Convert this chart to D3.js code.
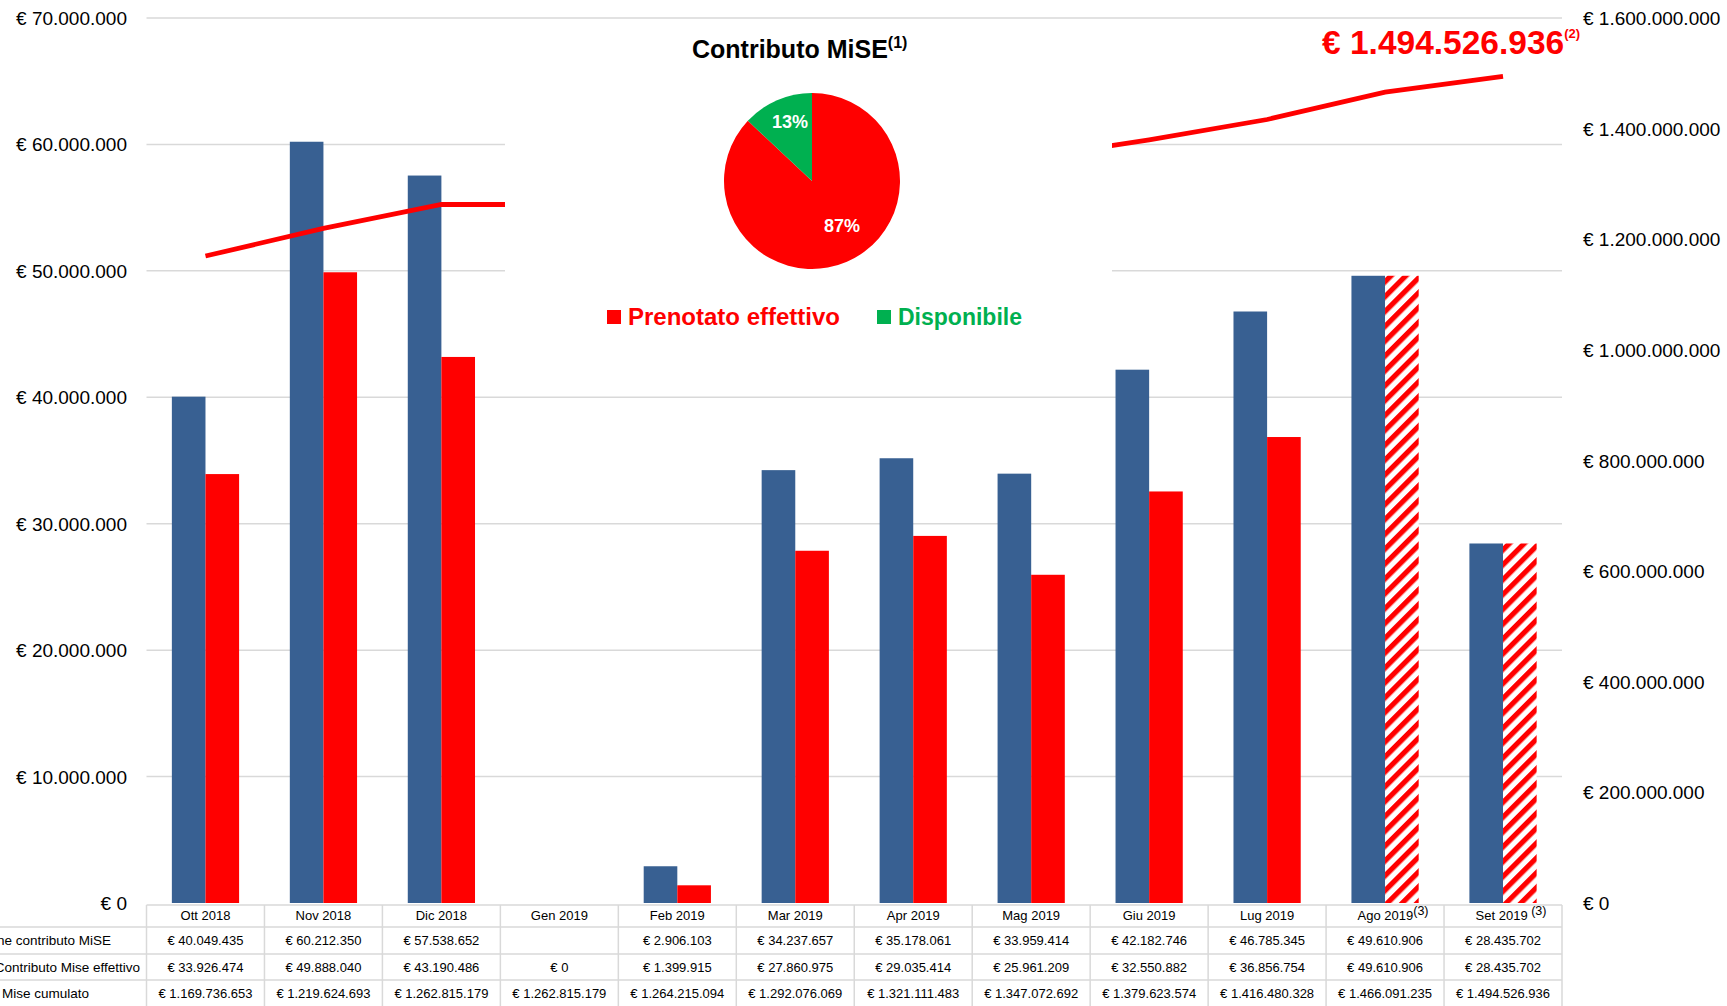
<!DOCTYPE html>
<html>
<head>
<meta charset="utf-8">
<script src="https://cdn.jsdelivr.net/npm/d3@7"></script>
<style>
body{margin:0;background:#fff}
svg{display:block;font-family:"Liberation Sans",Arial,sans-serif}
</style>
</head>
<body>
<svg id="chart" width="1727" height="1006"></svg>
<script>
// months shown on the x axis / table header
var categories = ["Ott 2018","Nov 2018","Dic 2018","Gen 2019","Feb 2019","Mar 2019","Apr 2019","Mag 2019","Giu 2019","Lug 2019","Ago 2019","Set 2019"];
var headerNotes = ["","","","","","","","","","","(3)"," (3)"];
var prenotazione = [40049435,60212350,57538652,null,2906103,34237657,35178061,33959414,42182746,46785345,49610906,28435702];
var effettivo = [33926474,49888040,43190486,0,1399915,27860975,29035414,25961209,32550882,36856754,49610906,28435702];
var cumulato = [1169736653,1219624693,1262815179,1262815179,1264215094,1292076069,1321111483,1347072692,1379623574,1416480328,1466091235,1494526936];
var hatched = [false,false,false,false,false,false,false,false,false,false,true,true];
var leftTicks = [0,10000000,20000000,30000000,40000000,50000000,60000000,70000000];
var rightTicks = [0,200000000,400000000,600000000,800000000,1000000000,1200000000,1400000000,1600000000];
var rowLabels = ["Prenotazione contributo MiSE","Contributo Mise effettivo","Contributo Mise cumulato"];
var pieNames = ["Prenotato effettivo","Disponibile"];
var pieValues = [87,13];
var totalText = "€ 1.494.526.936";

var BLUE = "#386092", RED = "#ff0000", GREEN = "#00b050", GRID = "#d9d9d9";

var it = d3.formatLocale({decimal:",", thousands:".", grouping:[3], currency:["€ ",""]});
var fmt = it.format("$,.0f");

var svg = d3.select("#chart");

// hatch for the estimated months
var defs = svg.append("defs");
var pat = defs.append("pattern").attr("id","hatch").attr("patternUnits","userSpaceOnUse")
  .attr("width",10.5).attr("height",10.5).attr("patternTransform","rotate(45)");
pat.append("rect").attr("width",10.5).attr("height",10.5).attr("fill","#fff");
pat.append("rect").attr("width",5.2).attr("height",10.5).attr("fill",RED);

var plotL = 146.5, plotR = 1562, plotT = 18, plotB = 903;

var col = d3.scaleBand().domain(categories).range([plotL,plotR]);
var xb = d3.scaleBand().domain(categories).range([plotL,plotR]).paddingInner(0.43).paddingOuter(0.215);
var xs = d3.scaleBand().domain([0,1]).range([0,xb.bandwidth()]);
var yL = d3.scaleLinear().domain([0,70000000]).range([plotB,plotT]);
var yR = d3.scaleLinear().domain([0,1600000000]).range([plotB,plotT]);

// gridlines
svg.append("g").selectAll("line").data(leftTicks.slice(1)).join("line")
  .attr("x1",plotL).attr("x2",plotR)
  .attr("y1",d=>yL(d)).attr("y2",d=>yL(d))
  .attr("stroke",GRID).attr("stroke-width",1.5);

// bars
var bars = svg.append("g");
bars.selectAll(".pb").data(categories.filter((c,i)=>prenotazione[i]!=null)).join("rect")
  .attr("x",c=>xb(c)+xs(0))
  .attr("y",c=>yL(prenotazione[categories.indexOf(c)])).attr("width",xs.bandwidth())
  .attr("height",c=>yL(0)-yL(prenotazione[categories.indexOf(c)])).attr("fill",BLUE);
bars.selectAll(".eb").data(effettivo).join("rect")
  .attr("x",(d,i)=>xb(categories[i])+xs(1))
  .attr("y",d=>yL(d)).attr("width",xs.bandwidth())
  .attr("height",d=>yL(0)-yL(d))
  .attr("fill",(d,i)=>hatched[i]?"url(#hatch)":RED);

// cumulative line on right axis
var line = d3.line().x((d,i)=>col(categories[i])+col.bandwidth()/2).y(d=>yR(d));
svg.append("path").datum(cumulato).attr("d",line)
  .attr("fill","none").attr("stroke",RED).attr("stroke-width",4.8);

// white panel holding the pie
svg.append("rect").attr("x",505).attr("y",22).attr("width",607).attr("height",320).attr("fill","#fff");

// title
var title = svg.append("text").attr("x",692).attr("y",58)
  .attr("font-size",25).attr("font-weight","bold").attr("fill","#000");
title.append("tspan").text("Contributo MiSE");
title.append("tspan").text("(1)").attr("font-size",16).attr("dy",-10);

// pie
var pie = d3.pie().sort(null).value(d=>d);
var arc = d3.arc().innerRadius(0).outerRadius(88);
var pg = svg.append("g").attr("transform","translate(812,181)");
pg.selectAll("path").data(pie(pieValues)).join("path")
  .attr("d",arc).attr("fill",(d,i)=>i==0?RED:GREEN);
var pieLabelPos = [[30,51],[-22,-53]];
pg.selectAll("text").data(pieValues).join("text")
  .attr("x",(d,i)=>pieLabelPos[i][0]).attr("y",(d,i)=>pieLabelPos[i][1])
  .attr("text-anchor","middle").attr("font-size",18).attr("font-weight","bold")
  .attr("fill","#fff").text(d=>d+"%");

// legend
var legX = [607,877];
var lg = svg.append("g").selectAll("g").data(pieNames).join("g")
  .attr("transform",(d,i)=>"translate("+legX[i]+",310)");
lg.append("rect").attr("width",14).attr("height",14).attr("fill",(d,i)=>i==0?RED:GREEN);
lg.append("text").attr("x",21).attr("y",15).attr("font-size",(d,i)=>i==0?24:23).attr("font-weight","bold")
  .attr("fill",(d,i)=>i==0?RED:GREEN).text(d=>d);

// total label
var tot = svg.append("text").attr("x",1322).attr("y",54)
  .attr("font-size",33.5).attr("font-weight","bold").attr("fill",RED);
tot.append("tspan").text(totalText);
tot.append("tspan").text("(2)").attr("font-size",13).attr("dy",-16);

// axis labels
svg.append("g").selectAll("text").data(leftTicks).join("text")
  .attr("x",127).attr("y",d=>yL(d)+7).attr("text-anchor","end")
  .attr("font-size",19).attr("fill","#000").text(d=>fmt(d));
svg.append("g").selectAll("text").data(rightTicks).join("text")
  .attr("x",1583).attr("y",d=>yR(d)+7)
  .attr("font-size",19).attr("fill","#000").text(d=>fmt(d));

// data table
var rowY = [905,927,954,980,1007];
var tb = svg.append("g").attr("stroke",GRID).attr("stroke-width",1.5);
tb.append("line").attr("x1",plotL).attr("x2",plotR).attr("y1",rowY[0]).attr("y2",rowY[0]);
rowY.slice(1).forEach(function(y){
  tb.append("line").attr("x1",0).attr("x2",plotR).attr("y1",y).attr("y2",y);
});
categories.concat(["end"]).forEach(function(c,i){
  var x = plotL + i*col.step();
  tb.append("line").attr("x1",x).attr("x2",x).attr("y1",rowY[0]).attr("y2",1006);
});

var tt = svg.append("g").attr("font-size",13).attr("fill","#000").attr("text-anchor","middle");
categories.forEach(function(c,i){
  var cx = col(c)+col.bandwidth()/2;
  var h = tt.append("text").attr("x",cx+(headerNotes[i]?8:0)).attr("y",920);
  h.append("tspan").text(c);
  if(headerNotes[i]) h.append("tspan").text(headerNotes[i]).attr("font-size",12.5).attr("dy",-5);
  if(prenotazione[i]!=null) tt.append("text").attr("x",cx).attr("y",945).text(fmt(prenotazione[i]));
  tt.append("text").attr("x",cx).attr("y",972).text(fmt(effettivo[i]));
  tt.append("text").attr("x",cx).attr("y",998).text(fmt(cumulato[i]));
});
var labEnd = [111,140,89];
svg.append("g").selectAll("text").data(rowLabels).join("text")
  .attr("x",(d,i)=>labEnd[i]).attr("y",(d,i)=>[945,972,998][i])
  .attr("text-anchor","end").attr("font-size",13.5).attr("fill","#000").text(d=>d);
</script>
</body>
</html>
